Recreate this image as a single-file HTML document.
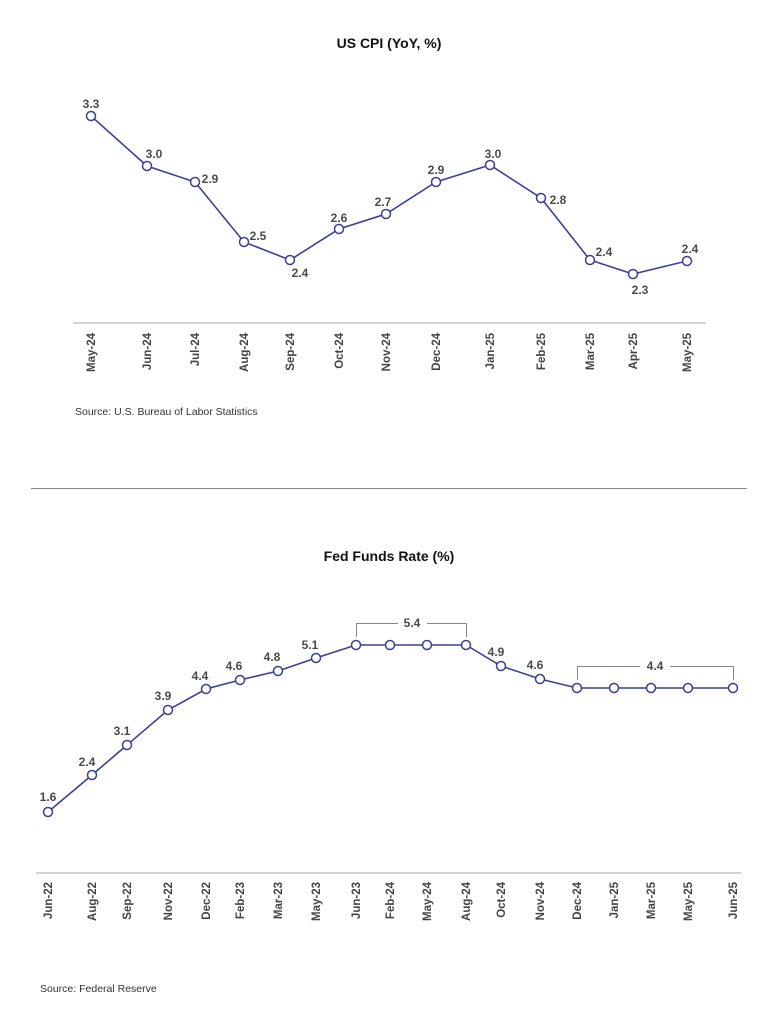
<!DOCTYPE html>
<html><head><meta charset="utf-8"><style>
html,body{margin:0;padding:0;background:#fff;}
svg{display:block;font-family:"Liberation Sans",sans-serif;}
text{font-family:"Liberation Sans",sans-serif;}
.t{font-weight:bold;font-size:14px;fill:#111;text-anchor:middle}
.v{font-weight:bold;font-size:12px;fill:#4a4a4a;text-anchor:middle}
.x{font-weight:bold;font-size:11.5px;fill:#444;text-anchor:end}
.s{font-size:10.5px;fill:#333}
.ln{fill:none;stroke:#3a3f9c;stroke-width:1.6}
circle{fill:#fff;stroke:#3a3f9c;stroke-width:1.5}
</style></head><body>
<svg width="778" height="1024" viewBox="0 0 778 1024">
<text class="t" x="389" y="48">US CPI (YoY, %)</text>
<line x1="73" y1="323" x2="706" y2="323" stroke="#aaa" stroke-width="1"/>
<polyline class="ln" points="91,116 147,166 195,182 244,242 290,260 339,229 386,214 436,182 490,165 541,198 590,260 633,274 687,261"/>
<g>
<circle cx="91" cy="116" r="4.5"/><circle cx="147" cy="166" r="4.5"/><circle cx="195" cy="182" r="4.5"/><circle cx="244" cy="242" r="4.5"/><circle cx="290" cy="260" r="4.5"/><circle cx="339" cy="229" r="4.5"/><circle cx="386" cy="214" r="4.5"/><circle cx="436" cy="182" r="4.5"/><circle cx="490" cy="165" r="4.5"/><circle cx="541" cy="198" r="4.5"/><circle cx="590" cy="260" r="4.5"/><circle cx="633" cy="274" r="4.5"/><circle cx="687" cy="261" r="4.5"/>
</g>
<text class="v" x="91" y="108">3.3</text>
<text class="v" x="154" y="158">3.0</text>
<text class="v" x="210" y="183">2.9</text>
<text class="v" x="258" y="240">2.5</text>
<text class="v" x="300" y="277">2.4</text>
<text class="v" x="339" y="222">2.6</text>
<text class="v" x="383" y="206">2.7</text>
<text class="v" x="436" y="174">2.9</text>
<text class="v" x="493" y="158">3.0</text>
<text class="v" x="558" y="204">2.8</text>
<text class="v" x="604" y="256">2.4</text>
<text class="v" x="640" y="294">2.3</text>
<text class="v" x="690" y="253">2.4</text>
<g>
<text class="x" transform="translate(95,333) rotate(-90)">May-24</text>
<text class="x" transform="translate(151,333) rotate(-90)">Jun-24</text>
<text class="x" transform="translate(199,333) rotate(-90)">Jul-24</text>
<text class="x" transform="translate(248,333) rotate(-90)">Aug-24</text>
<text class="x" transform="translate(294,333) rotate(-90)">Sep-24</text>
<text class="x" transform="translate(343,333) rotate(-90)">Oct-24</text>
<text class="x" transform="translate(390,333) rotate(-90)">Nov-24</text>
<text class="x" transform="translate(440,333) rotate(-90)">Dec-24</text>
<text class="x" transform="translate(494,333) rotate(-90)">Jan-25</text>
<text class="x" transform="translate(545,333) rotate(-90)">Feb-25</text>
<text class="x" transform="translate(594,333) rotate(-90)">Mar-25</text>
<text class="x" transform="translate(637,333) rotate(-90)">Apr-25</text>
<text class="x" transform="translate(691,333) rotate(-90)">May-25</text>
</g>
<text class="s" x="75" y="415">Source: U.S. Bureau of Labor Statistics</text>
<line x1="31" y1="488.5" x2="747" y2="488.5" stroke="#888" stroke-width="1"/>

<text class="t" x="389" y="561">Fed Funds Rate (%)</text>
<line x1="36" y1="873" x2="742" y2="873" stroke="#aaa" stroke-width="1"/>
<path d="M356.5,637 V623.5 H398 M427,623.5 H466.5 V637" fill="none" stroke="#888" stroke-width="1"/>
<text class="v" x="412" y="627">5.4</text>
<path d="M577.5,680 V666.5 H640 M670,666.5 H733.5 V680" fill="none" stroke="#888" stroke-width="1"/>
<text class="v" x="655" y="670">4.4</text>
<polyline class="ln" points="48,812 92,775 127,745 168,710 206,689 240,680 278,671 316,658 356,645 390,645 427,645 466,645 501,666 540,679 577,688 614,688 651,688 688,688 733,688"/>
<g>
<circle cx="48" cy="812" r="4.5"/><circle cx="92" cy="775" r="4.5"/><circle cx="127" cy="745" r="4.5"/><circle cx="168" cy="710" r="4.5"/><circle cx="206" cy="689" r="4.5"/><circle cx="240" cy="680" r="4.5"/><circle cx="278" cy="671" r="4.5"/><circle cx="316" cy="658" r="4.5"/><circle cx="356" cy="645" r="4.5"/><circle cx="390" cy="645" r="4.5"/><circle cx="427" cy="645" r="4.5"/><circle cx="466" cy="645" r="4.5"/><circle cx="501" cy="666" r="4.5"/><circle cx="540" cy="679" r="4.5"/><circle cx="577" cy="688" r="4.5"/><circle cx="614" cy="688" r="4.5"/><circle cx="651" cy="688" r="4.5"/><circle cx="688" cy="688" r="4.5"/><circle cx="733" cy="688" r="4.5"/>
</g>
<text class="v" x="48" y="801">1.6</text>
<text class="v" x="87" y="766">2.4</text>
<text class="v" x="122" y="735">3.1</text>
<text class="v" x="163" y="700">3.9</text>
<text class="v" x="200" y="680">4.4</text>
<text class="v" x="234" y="670">4.6</text>
<text class="v" x="272" y="661">4.8</text>
<text class="v" x="310" y="649">5.1</text>
<text class="v" x="496" y="656">4.9</text>
<text class="v" x="535" y="669">4.6</text>
<g>
<text class="x" transform="translate(52,882) rotate(-90)">Jun-22</text>
<text class="x" transform="translate(96,882) rotate(-90)">Aug-22</text>
<text class="x" transform="translate(131,882) rotate(-90)">Sep-22</text>
<text class="x" transform="translate(172,882) rotate(-90)">Nov-22</text>
<text class="x" transform="translate(210,882) rotate(-90)">Dec-22</text>
<text class="x" transform="translate(244,882) rotate(-90)">Feb-23</text>
<text class="x" transform="translate(282,882) rotate(-90)">Mar-23</text>
<text class="x" transform="translate(320,882) rotate(-90)">May-23</text>
<text class="x" transform="translate(360,882) rotate(-90)">Jun-23</text>
<text class="x" transform="translate(394,882) rotate(-90)">Feb-24</text>
<text class="x" transform="translate(431,882) rotate(-90)">May-24</text>
<text class="x" transform="translate(470,882) rotate(-90)">Aug-24</text>
<text class="x" transform="translate(505,882) rotate(-90)">Oct-24</text>
<text class="x" transform="translate(544,882) rotate(-90)">Nov-24</text>
<text class="x" transform="translate(581,882) rotate(-90)">Dec-24</text>
<text class="x" transform="translate(618,882) rotate(-90)">Jan-25</text>
<text class="x" transform="translate(655,882) rotate(-90)">Mar-25</text>
<text class="x" transform="translate(692,882) rotate(-90)">May-25</text>
<text class="x" transform="translate(737,882) rotate(-90)">Jun-25</text>
</g>
<text class="s" x="40" y="992">Source: Federal Reserve</text>
</svg>
</body></html>
